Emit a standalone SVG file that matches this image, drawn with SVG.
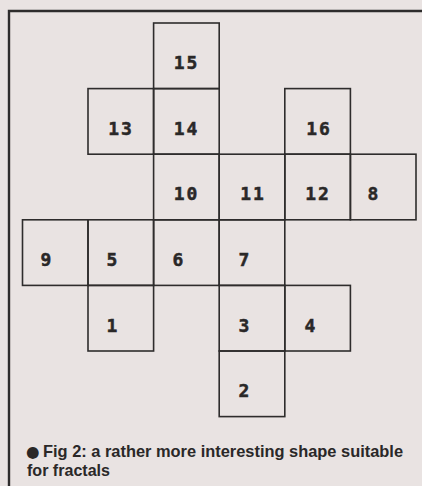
<svg xmlns="http://www.w3.org/2000/svg" width="422" height="486" viewBox="0 0 422 486">
<style>
.c rect{fill:none;stroke:#2e2c2c;stroke-width:1.6}
.c text{font-family:"DejaVu Sans Mono","Liberation Mono",monospace;font-weight:bold;font-size:18px;fill:#2a2828;stroke:#2a2828;stroke-width:0.5;text-anchor:middle;letter-spacing:2px}
.cap{font-family:"Liberation Sans",Arial,sans-serif;font-weight:bold;font-size:17px;fill:#2a2828}
.bul{font-family:"DejaVu Sans",sans-serif;font-size:15.5px;fill:#2a2828}
</style>
<rect x="0" y="0" width="422" height="486" fill="#e9e3e2"/>
<path d="M9,486 V11 H422" fill="none" stroke="#2e2c2c" stroke-width="2.4"/>
<g class="c">
<g id="n15"><rect x="153.6" y="23" width="65.6" height="65.6"/><text x="186.5" y="69">15</text></g>
<g id="n13"><rect x="88" y="88.6" width="65.6" height="65.6"/><text x="121" y="135">13</text></g>
<g id="n14"><rect x="153.6" y="88.6" width="65.6" height="65.6"/><text x="186.5" y="135">14</text></g>
<g id="n16"><rect x="284.8" y="88.6" width="65.6" height="65.6"/><text x="319" y="135">16</text></g>
<g id="n10"><rect x="153.6" y="154.2" width="65.6" height="65.6"/><text x="186.5" y="200">10</text></g>
<g id="n11"><rect x="219.2" y="154.2" width="65.6" height="65.6"/><text x="253" y="200">11</text></g>
<g id="n12"><rect x="284.8" y="154.2" width="65.6" height="65.6"/><text x="318" y="200">12</text></g>
<g id="n8"><rect x="350.4" y="154.2" width="65.6" height="65.6"/><text x="374" y="200">8</text></g>
<g id="n9"><rect x="22.5" y="219.8" width="65.5" height="65.6"/><text x="47" y="266">9</text></g>
<g id="n5"><rect x="88" y="219.8" width="65.6" height="65.6"/><text x="113" y="266">5</text></g>
<g id="n6"><rect x="153.6" y="219.8" width="65.6" height="65.6"/><text x="179" y="266">6</text></g>
<g id="n7"><rect x="219.2" y="219.8" width="65.6" height="65.6"/><text x="245" y="266">7</text></g>
<g id="n1"><rect x="88" y="285.4" width="65.6" height="65.6"/><text x="113" y="332">1</text></g>
<g id="n3"><rect x="219.2" y="285.4" width="65.6" height="65.6"/><text x="245" y="332">3</text></g>
<g id="n4"><rect x="284.8" y="285.4" width="65.6" height="65.6"/><text x="311" y="332">4</text></g>
<g id="n2"><rect x="219.2" y="351" width="65.6" height="65.6"/><text x="245" y="397">2</text></g>
</g>
<g id="caption">
<text class="bul" x="26" y="457">●</text>
<text class="cap" x="43" y="457" textLength="360" lengthAdjust="spacingAndGlyphs">Fig 2: a rather more interesting shape suitable</text>
<text class="cap" x="27" y="476" textLength="83" lengthAdjust="spacingAndGlyphs">for fractals</text>
</g>
</svg>
